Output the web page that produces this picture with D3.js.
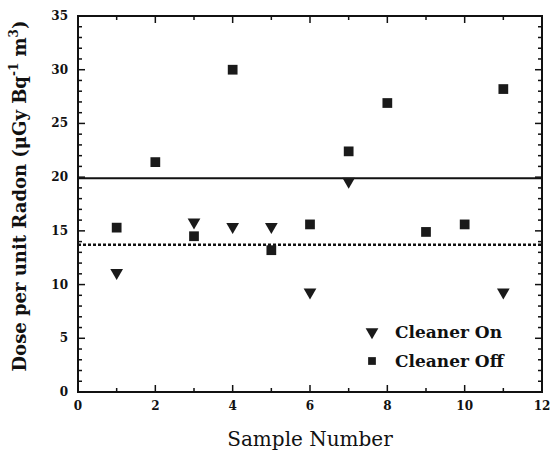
<!DOCTYPE html>
<html>
<head>
<meta charset="utf-8">
<script src="https://cdn.jsdelivr.net/npm/d3@7"></script>
<style>
  body { margin: 0; background: #fff; }
  text { font-family: "DejaVu Serif", serif; fill: #111; }
</style>
</head>
<body>
<div id="chart"></div>
<script>
// sample numbers and doses
var onSamples = [1, 3, 4, 5, 6, 7, 11];
var onDose = [11.1, 15.8, 15.4, 15.4, 9.3, 19.6, 9.3];
var offSamples = [1, 2, 3, 4, 5, 6, 7, 8, 9, 10, 11];
var offDose = [15.3, 21.4, 14.5, 30.0, 13.2, 15.6, 22.4, 26.9, 14.9, 15.6, 28.2];
var meanOff = 19.9;
var meanOn = 13.7;
var xTicks = [0, 2, 4, 6, 8, 10, 12];
var yTicks = [0, 5, 10, 15, 20, 25, 30, 35];
var legendLabels = ["Cleaner On", "Cleaner Off"];

var width = 550, height = 455;
var margin = {top: 16, right: 8, bottom: 63, left: 78};

var svg = d3.select("#chart").append("svg")
    .attr("width", width)
    .attr("height", height);

var x = d3.scaleLinear().domain([0, 12]).range([margin.left, width - margin.right]);
var y = d3.scaleLinear().domain([0, 35]).range([height - margin.bottom, margin.top]);

// frame
svg.append("rect")
    .attr("x", x(0))
    .attr("y", y(35))
    .attr("width", x(12) - x(0))
    .attr("height", y(0) - y(35))
    .attr("fill", "none")
    .attr("stroke", "#111")
    .attr("stroke-width", 2);

// inward ticks on all four sides
var g = svg.append("g").attr("stroke", "#111").attr("stroke-width", 1.5);
d3.range(0, 13).forEach(function(v) {
    var len = v % 2 == 0 ? 7 : 4;
    g.append("line").attr("x1", x(v)).attr("x2", x(v)).attr("y1", y(0)).attr("y2", y(0) - len);
    g.append("line").attr("x1", x(v)).attr("x2", x(v)).attr("y1", y(35)).attr("y2", y(35) + len);
});
d3.range(0, 36).forEach(function(v) {
    var len = v % 5 == 0 ? 7 : 4;
    g.append("line").attr("x1", x(0)).attr("x2", x(0) + len).attr("y1", y(v)).attr("y2", y(v));
    g.append("line").attr("x1", x(12)).attr("x2", x(12) - len).attr("y1", y(v)).attr("y2", y(v));
});

// tick labels
svg.selectAll(".xl").data(xTicks).enter().append("text")
    .attr("x", function(d) { return x(d); })
    .attr("y", y(0) + 18)
    .attr("text-anchor", "middle")
    .attr("font-size", 12)
    .attr("font-weight", "bold")
    .text(function(d) { return d; });

svg.selectAll(".yl").data(yTicks).enter().append("text")
    .attr("x", x(0) - 10)
    .attr("y", function(d) { return y(d) + 4; })
    .attr("text-anchor", "end")
    .attr("font-size", 12)
    .attr("font-weight", "bold")
    .text(function(d) { return d; });

// axis titles
svg.append("text")
    .attr("x", 310)
    .attr("y", 446)
    .attr("text-anchor", "middle")
    .attr("font-size", 20)
    .text("Sample Number");

var yt = svg.append("text")
    .attr("transform", "translate(26," + 196 + ") rotate(-90)")
    .attr("text-anchor", "middle")
    .attr("font-size", 18)
    .attr("font-weight", "bold");
yt.append("tspan").text("Dose per unit Radon (μGy Bq");
yt.append("tspan").attr("dy", -8).attr("font-size", 12).text("-1");
yt.append("tspan").attr("dy", 8).text(" m");
yt.append("tspan").attr("dy", -8).attr("font-size", 12).text("3");
yt.append("tspan").attr("dy", 8).text(")");

// mean lines
svg.append("line")
    .attr("x1", x(0)).attr("x2", x(12))
    .attr("y1", y(meanOff)).attr("y2", y(meanOff))
    .attr("stroke", "#111").attr("stroke-width", 2);
svg.append("line")
    .attr("x1", x(0)).attr("x2", x(12))
    .attr("y1", y(meanOn)).attr("y2", y(meanOn))
    .attr("stroke", "#111").attr("stroke-width", 2.5)
    .attr("stroke-dasharray", "3,2");

var tri = d3.symbol().type(d3.symbolTriangle).size(70);
var sq = d3.symbol().type(d3.symbolSquare).size(95);

svg.selectAll(".off").data(offSamples).enter().append("path")
    .attr("d", sq)
    .attr("fill", "#1a1a1a")
    .attr("transform", function(d, i) { return "translate(" + x(d) + "," + y(offDose[i]) + ")"; });

svg.selectAll(".on").data(onSamples).enter().append("path")
    .attr("d", tri)
    .attr("fill", "#1a1a1a")
    .attr("transform", function(d, i) { return "translate(" + x(d) + "," + y(onDose[i]) + ") rotate(180)"; });

// legend
var lg = svg.append("g").attr("transform", "translate(372,332)");
lg.append("path").attr("d", tri).attr("fill", "#1a1a1a").attr("transform", "rotate(180)");
lg.append("path").attr("d", d3.symbol().type(d3.symbolSquare).size(60)).attr("fill", "#1a1a1a")
    .attr("transform", "translate(0,29)");
legendLabels.forEach(function(t, i) {
    lg.append("text")
        .attr("x", 23)
        .attr("y", i * 29 + 6)
        .attr("font-size", 17)
        .attr("font-weight", "bold")
        .text(t);
});
</script>
</body>
</html>
